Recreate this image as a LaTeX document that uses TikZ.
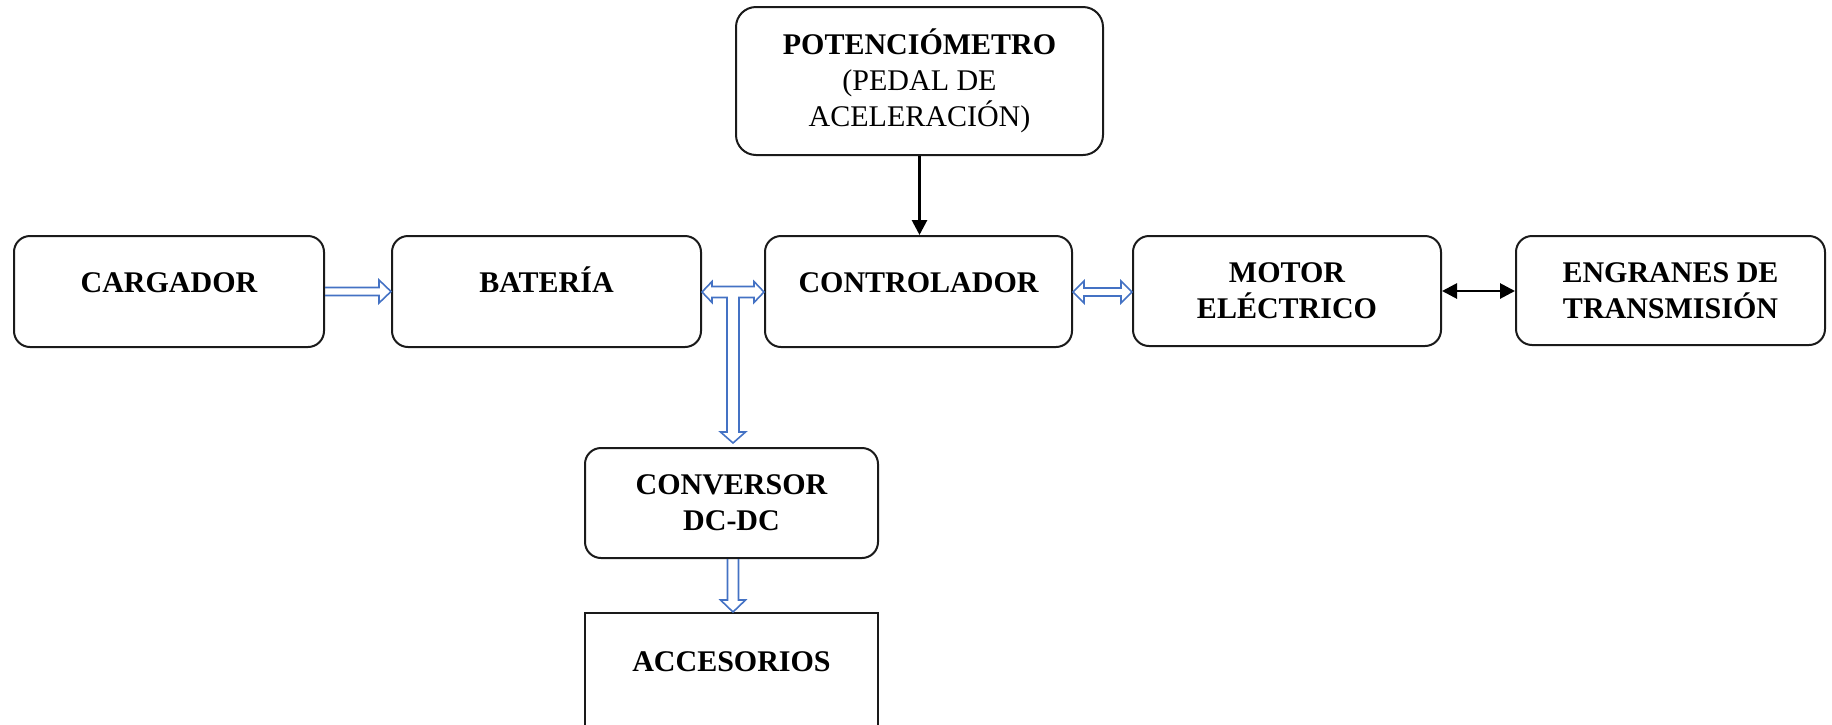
\documentclass[tikz,border=0pt]{standalone}
\usepackage{fontspec}
\setmainfont{Liberation Serif}
\usetikzlibrary{arrows.meta,calc}
\definecolor{arrblue}{HTML}{4472C4}
\definecolor{boxline}{HTML}{1A1A1A}
% hollow block arrows drawn as outlines between node anchors
\newcommand\rarrowx[2]{\draw[blockarr] ($(#1)+(0,-4)$) -- ($(#2)+(-12,-4)$) -- ($(#2)+(-12,-11.5)$) -- (#2) -- ($(#2)+(-12,11.5)$) -- ($(#2)+(-12,4)$) -- ($(#1)+(0,4)$);}
\newcommand\lrarrowx[2]{\draw[blockarr] (#1) -- ($(#1)+(11,-11)$) -- ($(#1)+(11,-4)$) -- ($(#2)+(-11,-4)$) -- ($(#2)+(-11,-11)$) -- (#2) -- ($(#2)+(-11,11)$) -- ($(#2)+(-11,4)$) -- ($(#1)+(11,4)$) -- ($(#1)+(11,11)$) -- cycle;}
\newcommand\darrowx[2]{\draw[blockarr] ($(#1)+(-5.5,0)$) -- ($(#2)+(-5.5,-12)$) -- ($(#2)+(-12.5,-12)$) -- (#2) -- ($(#2)+(12.5,-12)$) -- ($(#2)+(5.5,-12)$) -- ($(#1)+(5.5,0)$);}
\begin{document}
\begin{tikzpicture}[x=1pt,y=-1pt,
  box/.style={draw=boxline, line width=2pt, rounded corners=16pt, align=center,
    font=\fontsize{30}{36}\selectfont\bfseries, inner sep=0pt},
  single/.style={text height=20pt, text depth=18pt},
  blockarr/.style={draw=arrblue, line width=1.6pt, line join=miter},
  blackarr/.style={draw=black, line width=2.8pt},
  btip/.tip={Triangle[length=15pt,width=15pt]}
]
\useasboundingbox (0,0) rectangle (1832,724);

\node[box, single, minimum width=310pt, minimum height=111pt] (carg) at (169,291.5) {CARGADOR};
\node[box, single, minimum width=309pt, minimum height=111pt] (bat) at (546.5,291.5) {BATERÍA};
\node[box, single, minimum width=307pt, minimum height=111pt] (ctrl) at (918.5,291.5) {CONTROLADOR};
\node[box, minimum width=308pt, minimum height=110pt] (motor) at (1287,291) {MOTOR\\ELÉCTRICO};
\node[box, minimum width=309pt, minimum height=109pt] (engr) at (1670.5,290.5) {ENGRANES DE\\TRANSMISIÓN};
\node[box, rounded corners=20pt, font=\fontsize{30}{36}\selectfont, minimum width=367pt, minimum height=148pt] (pot) at (919.5,81)
  {\textbf{POTENCIÓMETRO}\\(PEDAL DE\\ACELERACIÓN)};
\node[box, minimum width=293pt, minimum height=110pt] (conv) at (731.5,503) {CONVERSOR\\DC-DC};
\node[box, sharp corners, minimum width=293pt, minimum height=134pt,
  label={[name=accT, font=\fontsize{30}{36}\selectfont\bfseries, yshift=18pt]center:ACCESORIOS}] (acc) at (731.5,680) {};

\coordinate (jn) at (733,292);
\coordinate (dtip) at ($(jn |- conv.north)+(0,-4)$);
\coordinate (btl) at (bat.east |- jn);
\coordinate (ctr) at (ctrl.west |- jn);

% cargador -> bateria
\rarrowx{carg.east}{bat.west}
% bateria <-> controlador, with branch down to conversor
\draw[blockarr] (btl) -- ($(btl)+(10,-10.5)$) -- ($(btl)+(10,-5.5)$) -- ($(ctr)+(-10,-5.5)$)
  -- ($(ctr)+(-10,-10.5)$) -- (ctr) -- ($(ctr)+(-10,10.5)$) -- ($(ctr)+(-10,5.5)$)
  -- ($(jn)+(6,5.5)$) -- ($(dtip)+(6,-11)$) -- ($(dtip)+(12.5,-11)$) -- (dtip)
  -- ($(dtip)+(-12.5,-11)$) -- ($(dtip)+(-6,-11)$) -- ($(jn)+(-6,5.5)$)
  -- ($(btl)+(10,5.5)$) -- ($(btl)+(10,10.5)$) -- cycle;
% controlador <-> motor
\lrarrowx{ctrl.east |- jn}{motor.west |- jn}
% conversor -> accesorios
\darrowx{jn |- conv.south}{jn |- acc.north}

\draw[blackarr, {btip}-{btip}] (motor.east) -- (motor.east -| engr.west);
\draw[blackarr, -{btip}] (pot.south) -- (pot.south |- ctrl.north);
\end{tikzpicture}
\end{document}
